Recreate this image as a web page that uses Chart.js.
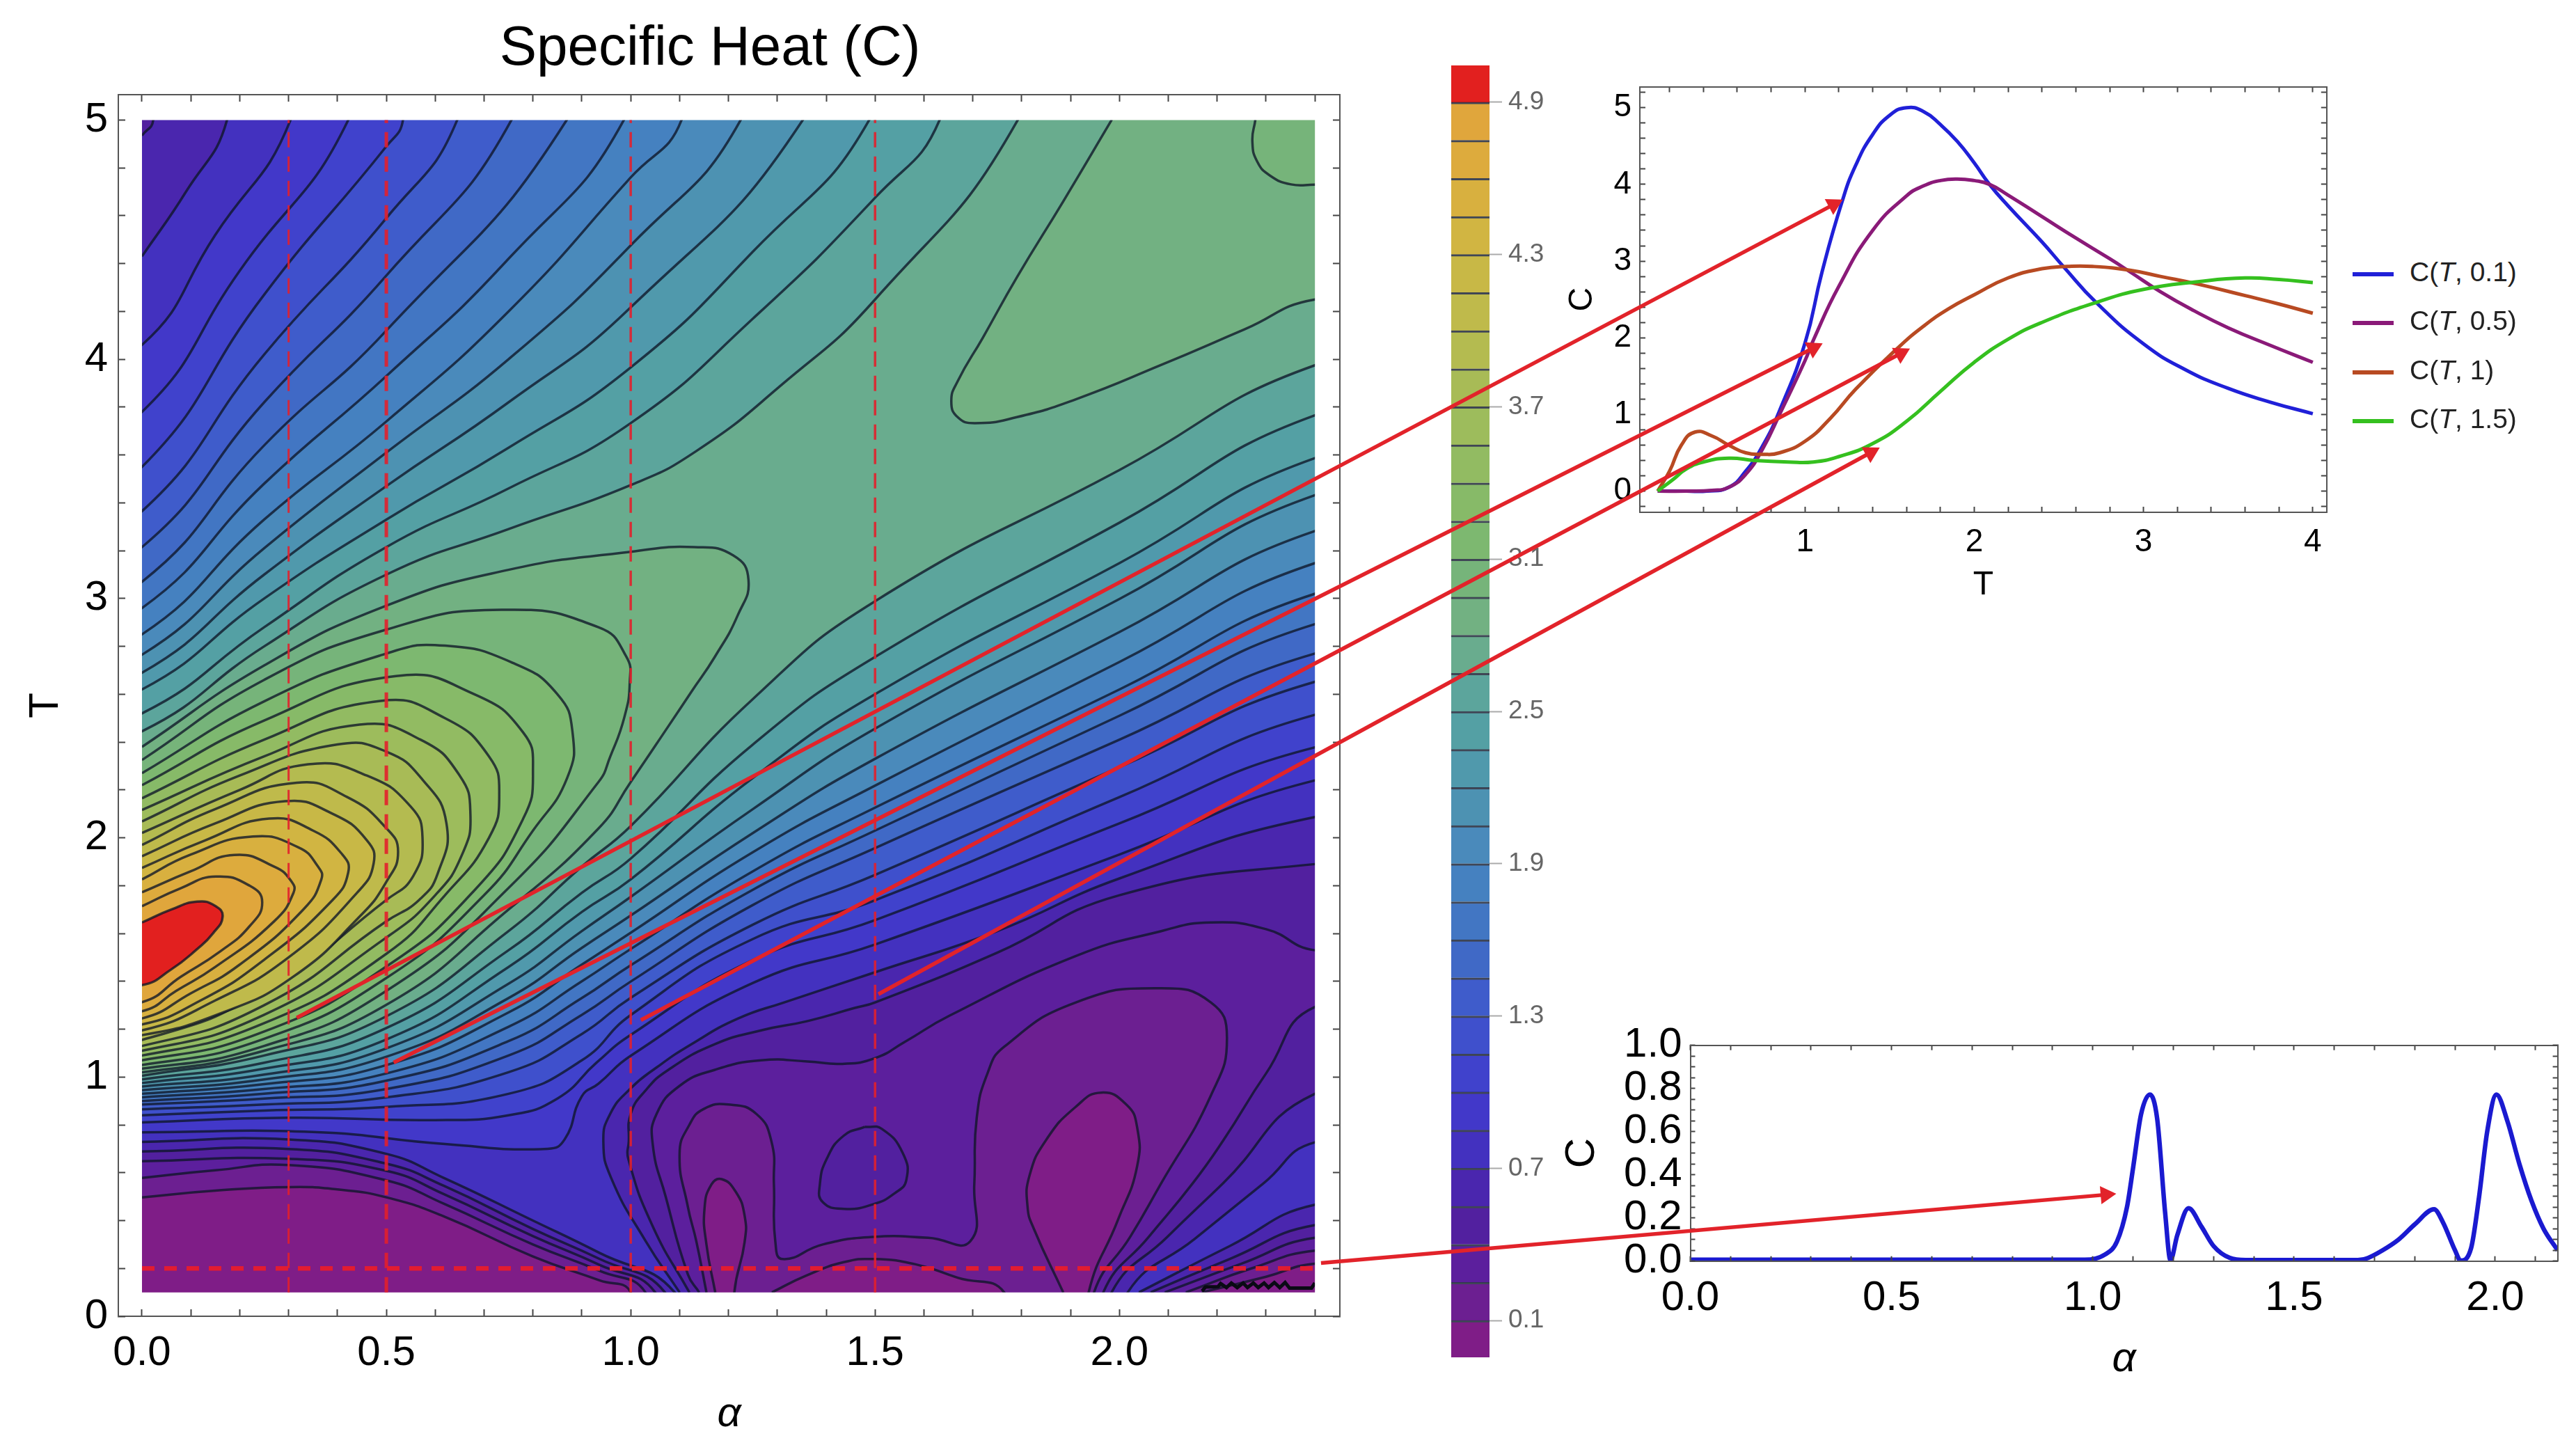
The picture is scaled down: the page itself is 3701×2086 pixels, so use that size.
<!DOCTYPE html>
<html>
<head>
<meta charset="utf-8">
<title>Specific Heat (C)</title>
<script src="https://cdn.jsdelivr.net/npm/chart.js@4"></script>
<style>
 body { margin:0; background:#fff; width:3701px; height:2086px; overflow:hidden; position:relative; font-family:"Liberation Sans",sans-serif; }
 canvas { position:absolute; }
 .leg { position:absolute; left:3380px; height:50px; color:#222; font-size:39px; line-height:50px; white-space:nowrap; }
 .leg span { display:inline-block; width:59px; height:6px; vertical-align:middle; margin-right:23px; }
</style>
</head>
<body>
<canvas id="main" width="2040" height="2086" style="left:0;top:0"></canvas>
<canvas id="bar" width="190" height="1980" style="left:2060px;top:60px"></canvas>
<canvas id="curves" width="1160" height="860" style="left:2200px;top:60px"></canvas>
<canvas id="slice" width="1501" height="646" style="left:2200px;top:1440px"></canvas>
<div id="legend"></div>
<canvas id="arrows" width="3701" height="2086" style="left:0;top:0"></canvas>
<script>
// contour levels and the colour of the band above each one (first colour is below 0.1)
const levels = [0.1,0.25,0.4,0.55,0.7,0.85,1,1.15,1.3,1.45,1.6,1.75,1.9,2.05,2.2,2.35,2.5,2.65,2.8,2.95,3.1,3.25,3.4,3.55,3.7,3.85,4,4.15,4.3,4.45,4.6,4.75,4.9];
const bandColors = ['#7f1d87','#6c1f91','#5c1f9d','#52209f','#4a26ae','#4331bf','#4238c9','#4042cc','#3f50cc','#3f5ccb','#4069c6','#4276c3','#4581c0','#4a8abb','#4d92b2','#5099ac','#54a0a4','#5ca59c','#69ac8e','#72b182','#76b47a','#7db870','#87ba68','#92bb62','#9dbc5c','#a8bb56','#b4bb50','#bfba4b','#c8b846','#d1b542','#d8b03f','#ddab3d','#e0a63c','#e2201f'];
const barTicks = [0.1,0.7,1.3,1.9,2.5,3.1,3.7,4.3,4.9];

// [alpha, T]: lower branch runs left edge -> right edge
const lower085 = [[0,.769],[.35,.77],[.62,.72],[.83,.70],[.865,.74],[.90,.92],[.934,.972],[1,1.089],[1.25,1.393],[1.5,1.554],[2,1.93],[2.4,2.24]];
const lower100 = [[0,.81],[.3,.83],[.6,.82],[.75,.84],[.85,.91],[.93,1.06],[1,1.176],[1.25,1.489],[1.5,1.656],[2,2.06],[2.4,2.378]];
const lower115 = [[0,.84],[.25,.86],[.5,.875],[.75,.93],[.9,1.07],[1,1.259],[1.25,1.577],[1.5,1.739],[2,2.17],[2.4,2.514]];
const lower130 = [[0,.865],[.25,.885],[.5,.915],[.75,1.02],[.9,1.18],[1,1.331],[1.25,1.637],[1.5,1.845],[2,2.295],[2.4,2.652]];
const lower145 = [[0,.885],[.25,.91],[.5,.95],[.75,1.09],[.9,1.26],[1,1.399],[1.25,1.719],[1.5,1.957],[2,2.41],[2.4,2.77]];
const lower160 = [[0,.90],[.25,.93],[.5,.985],[.75,1.15],[.9,1.33],[1,1.467],[1.25,1.783],[1.5,2.03],[2,2.51],[2.4,2.893]];
const lower175 = [[0,.915],[.25,.95],[.5,1.015],[.75,1.21],[.9,1.40],[1,1.535],[1.25,1.86],[1.5,2.126],[2,2.62],[2.4,3.02]];
const lower190 = [[0,.93],[.25,.97],[.5,1.05],[.75,1.27],[.9,1.47],[1,1.603],[1.25,1.94],[1.5,2.218],[2,2.735],[2.4,3.148]];
const lower205 = [[0,.945],[.25,.99],[.5,1.085],[.75,1.33],[.9,1.54],[1,1.675],[1.25,2.02],[1.5,2.33],[2,2.86],[2.4,3.282]];
const lower220 = [[0,.96],[.25,1.01],[.5,1.12],[.75,1.39],[.9,1.61],[1,1.753],[1.25,2.12],[1.5,2.456],[2,2.998],[2.4,3.432]];
const lower235 = [[0,.975],[.25,1.035],[.5,1.157],[.75,1.46],[.9,1.69],[1,1.826],[1.25,2.25],[1.5,2.60],[2,3.148],[2.4,3.587]];
const lower250 = [[0,.99],[.25,1.06],[.5,1.205],[.75,1.53],[.9,1.77],[1,1.913],[1.25,2.39],[1.5,2.756],[2,3.317],[2.4,3.766]];
const lower265 = [[0,1.005],[.25,1.09],[.5,1.254],[.75,1.61],[.9,1.88],[1,2.049],[1.25,2.58],[1.5,2.989],[2,3.537],[2.4,3.975]];

// upper branch runs left edge -> top edge
const upper055 = [[0,4.935],[.023,5]];
const upper070 = [[0,4.43],[.09,4.7],[.174,5]];
const upper085 = [[0,4.06],[.15,4.52],[.304,5]];
const upper100 = [[0,3.78],[.2,4.37],[.422,5]];
const upper115 = [[0,3.55],[.25,4.27],[.5,4.89],[.534,5]];
const upper130 = [[0,3.365],[.25,4.02],[.5,4.59],[.645,5]];
const upper145 = [[0,3.215],[.25,3.82],[.5,4.35],[.756,5]];
const upper160 = [[0,3.07],[.25,3.64],[.5,4.12],[.869,5]];
const upper175 = [[0,2.96],[.25,3.48],[.5,3.93],[.75,4.42],[.986,5]];
const upper190 = [[0,2.85],[.25,3.33],[.5,3.74],[.75,4.2],[1,4.76],[1.104,5]];
const upper205 = [[0,2.765],[.25,3.21],[.5,3.61],[.75,4.0],[1,4.476],[1.225,5]];
const upper220 = [[0,2.69],[.25,3.1],[.5,3.47],[.75,3.82],[1,4.217],[1.352,5]];
const upper235 = [[0,2.62],[.25,3.0],[.5,3.33],[.75,3.63],[1,3.966],[1.25,4.45],[1.488,5]];
const upper250 = [[0,2.52],[.25,2.88],[.5,3.215],[.75,3.46],[1,3.733],[1.25,4.17],[1.5,4.675],[1.632,5]];
const upper265 = [[0,2.445],[.25,2.8],[.5,3.10],[.75,3.29],[1,3.474],[1.134,3.616],[1.307,3.89],[1.5,4.25],[1.792,5]];

// closed loops round the peak, left edge -> over the top -> back to the left edge
const loop280 = [[0,2.38],[.25,2.72],[.5,2.97],[.75,3.12],[1,3.195],[1.13,3.215],[1.21,3.18],[1.241,3.077],[1.219,2.93],[1.172,2.756],[1.124,2.61],[1.077,2.466],[1,2.233],[.934,2.039],[.75,1.70],[.5,1.302],[.25,1.11],[0,1.02]];
const loop295 = [[0,2.325],[.25,2.66],[.5,2.87],[.736,2.953],[.934,2.88],[.991,2.757],[.998,2.65],[.987,2.504],[.958,2.339],[.934,2.233],[.75,1.79],[.5,1.36],[.25,1.13],[0,1.035]];
const loop310 = [[0,2.27],[.25,2.57],[.5,2.77],[.62,2.803],[.76,2.73],[.85,2.6],[.881,2.44],[.87,2.25],[.8,2.03],[.7,1.76],[.5,1.414],[.25,1.16],[0,1.05]];
const loop325 = [[0,2.22],[.25,2.49],[.52,2.676],[.68,2.6],[.78,2.44],[.80,2.28],[.78,2.08],[.68,1.78],[.5,1.462],[.25,1.19],[0,1.07]];
const loop340 = [[0,2.165],[.25,2.41],[.488,2.572],[.62,2.5],[.71,2.34],[.731,2.18],[.71,2.0],[.62,1.76],[.5,1.515],[.25,1.225],[0,1.09]];
const loop355 = [[0,2.116],[.25,2.34],[.445,2.473],[.57,2.41],[.65,2.26],[.672,2.1],[.655,1.93],[.6,1.76],[.5,1.583],[.25,1.26],[0,1.11]];
const loop370 = [[0,2.068],[.2,2.26],[.40,2.39],[.5,2.36],[.574,2.243],[.623,2.06],[.605,1.85],[.567,1.74],[.5,1.651],[.25,1.3],[0,1.13]];
const loop385 = [[0,2.02],[.2,2.2],[.34,2.307],[.46,2.26],[.55,2.13],[.574,2.0],[.555,1.84],[.5,1.74],[.25,1.36],[0,1.155]];
const loop400 = [[0,1.97],[.15,2.12],[.317,2.23],[.42,2.17],[.5,2.04],[.524,1.942],[.5,1.816],[.445,1.67],[.31,1.42],[.166,1.27],[0,1.175]];
const loop415 = [[0,1.923],[.15,2.06],[.293,2.153],[.39,2.1],[.46,1.99],[.474,1.893],[.44,1.77],[.3,1.5],[.15,1.32],[0,1.195]];
const loop430 = [[0,1.874],[.13,1.99],[.26,2.08],[.35,2.03],[.41,1.93],[.422,1.855],[.39,1.74],[.25,1.49],[.12,1.32],[0,1.22]];
const loop445 = [[0,1.826],[.1,1.93],[.227,2.005],[.32,1.96],[.36,1.88],[.367,1.826],[.33,1.7],[.2,1.47],[.1,1.35],[0,1.245]];
const loop460 = [[0,1.772],[.1,1.86],[.189,1.928],[.27,1.88],[.305,1.82],[.31,1.77],[.27,1.65],[.15,1.46],[.07,1.36],[0,1.275]];
const loop475 = [[0,1.714],[.08,1.79],[.151,1.838],[.22,1.80],[.246,1.73],[.22,1.63],[.16,1.525],[.08,1.42],[0,1.313]];
const loop490 = [[0,1.646],[.06,1.70],[.113,1.733],[.15,1.715],[.165,1.67],[.145,1.60],[.113,1.535],[.06,1.45],[0,1.384]];

// top right plateau
const ridge280 = [[1.984,5],[1.885,4.66],[1.79,4.342],[1.721,4.092],[1.669,3.908],[1.656,3.825],[1.669,3.758],[1.704,3.733],[1.79,3.758],[1.911,3.833],[2.084,3.975],[2.256,4.125],[2.4,4.25]];
const ridge295 = [[2.278,5],[2.272,4.91],[2.282,4.826],[2.308,4.768],[2.351,4.731],[2.4,4.73]];

// low side, bottom left bundle: left edge -> bottom edge
const left070 = [[0,.729],[.3,.739],[.5,.679],[.618,.578],[.8,.40],[.936,.265],[1.09,.1]];
const left055 = [[0,.689],[.3,.699],[.5,.638],[.618,.545],[.8,.365],[.936,.24],[1.07,.1]];
const left040 = [[0,.648],[.3,.658],[.5,.608],[.618,.51],[.8,.335],[.936,.215],[1.05,.1]];
const left025 = [[0,.578],[.15,.61],[.3,.632],[.5,.568],[.618,.47],[.8,.30],[.936,.19],[1.03,.1]];
const left010 = [[0,.497],[.15,.525],[.3,.54],[.4,.53],[.5,.497],[.618,.417],[.8,.25],[.936,.15],[1,.1]];

// low side, right of the saddle: bottom edge -> right edge
const right070 = [[1.10,.1],[1.03,.316],[.96,.578],[.944,.73],[.958,.846],[1,.953],[1.053,1.04],[1.124,1.137],[1.219,1.244],[1.314,1.312],[1.5,1.438],[1.75,1.61],[2,1.83],[2.4,2.087]];
const fan070 = [[2.4,.727],[2.295,.556],[2.154,.323],[2.017,.1]];
const right055 = [[1.12,.1],[1.045,.376],[.995,.658],[.996,.73],[1,.846],[1.03,.943],[1.077,1.03],[1.172,1.137],[1.267,1.195],[1.362,1.234],[1.457,1.288],[1.5,1.312],[1.75,1.52],[2,1.76],[2.4,1.89]];
const fan055 = [[2.4,.93],[2.212,.556],[2.098,.332],[1.984,.1]];
const right040 = [[1.14,.1],[1.117,.175],[1.072,.497],[1.045,.72],[1.053,.846],[1.10,.963],[1.172,1.03],[1.267,1.07],[1.362,1.065],[1.433,1.055],[1.5,1.079],[1.561,1.147],[1.652,1.256],[1.911,1.506],[2.084,1.609],[2.187,1.646],[2.3,1.618],[2.4,1.53]];
const fan040 = [[2.4,1.293],[2.3,1.015],[2.213,.737],[2.15,.556],[2.06,.332],[1.967,.1]];
const valley025 = [[1.155,.1],[1.134,.316],[1.117,.457],[1.10,.68],[1.12,.80],[1.149,.866],[1.2,.885],[1.257,.846],[1.288,.73],[1.293,.551],[1.296,.31],[1.311,.239],[1.393,.30],[1.496,.332],[1.609,.328],[1.695,.314],[1.703,.551],[1.708,.829],[1.73,1.015],[1.764,1.126],[1.911,1.312],[2.084,1.371],[2.187,1.312],[2.22,1.163],[2.187,.922],[2.084,.551],[2.022,.332],[1.948,.1]];
const lobeA010 = [[1.173,.1],[1.155,.30],[1.151,.45],[1.165,.55],[1.186,.573],[1.215,.52],[1.233,.421],[1.233,.31],[1.212,.1]];
const arch010 = [[1.289,.1],[1.359,.17],[1.436,.226],[1.496,.239],[1.583,.217],[1.669,.161],[1.764,.1]];
const lobeB010 = [[1.885,.1],[1.825,.365],[1.812,.458],[1.816,.588],[1.85,.737],[1.911,.876],[1.963,.935],[2.014,.885],[2.036,.792],[2.036,.625],[1.997,.403],[1.937,.1]];
const island040 = [[1.479,.792],[1.514,.783],[1.557,.681],[1.564,.57],[1.54,.514],[1.496,.468],[1.436,.449],[1.393,.477],[1.387,.551],[1.402,.662],[1.436,.755],[1.479,.792]];
const corner070 = [[2.04,.1],[2.226,.294],[2.4,.466]];
const corner055 = [[2.064,.1],[2.226,.24],[2.4,.381]];
const corner040 = [[2.093,.1],[2.25,.22],[2.4,.328]];
const corner025 = [[2.136,.1],[2.27,.2],[2.4,.274]];
const corner010 = [[2.169,.1],[2.3,.165],[2.4,.22]];
const jagged = [[2.169,.105],[2.176,.122],[2.202,.124],[2.207,.137],[2.219,.12],[2.229,.139],[2.241,.12],[2.253,.139],[2.262,.12],[2.274,.139],[2.284,.12],[2.296,.139],[2.305,.12],[2.317,.141],[2.328,.12],[2.339,.141],[2.348,.118],[2.393,.118],[2.4,.139]];

// the slices marked in red
const cutAlpha = [0.3,0.5,1,1.5];
const cutT = 0.2;
const cutWidths = [3,5,3.5,3.5];

// C against T, inset at top right
const seriesNames = ['C(<i>T</i>, 0.1)','C(<i>T</i>, 0.5)','C(<i>T</i>, 1)','C(<i>T</i>, 1.5)'];
const seriesColors = ['#2020d8','#8a1a78','#b84a22','#35c01f'];
const curve01 = [[.13,0],[.3,0],[.42,0],[.55,.05],[.65,.26],[.75,.59],[.85,1.05],[1,1.93],[1.1,2.85],[1.22,3.78],[1.3,4.25],[1.4,4.65],[1.5,4.9],[1.6,5],[1.7,4.95],[1.8,4.78],[1.9,4.56],[2,4.28],[2.09,4],[2.2,3.72],[2.4,3.25],[2.53,2.92],[2.72,2.46],[3,1.92],[3.25,1.58],[3.5,1.34],[3.75,1.16],[4,1.01]];
const curve05 = [[.13,0],[.3,0],[.45,.01],[.55,.05],[.65,.22],[.75,.55],[.85,1],[1,1.7],[1.05,1.97],[1.2,2.67],[1.4,3.4],[1.6,3.85],[1.7,3.98],[1.8,4.05],[1.9,4.07],[2,4.05],[2.09,4],[2.2,3.86],[2.4,3.58],[2.6,3.3],[2.8,3.03],[2.92,2.86],[3.1,2.6],[3.3,2.35],[3.5,2.13],[3.75,1.9],[4,1.68]];
const curve10 = [[.13,0],[.2,.26],[.27,.6],[.35,.77],[.45,.72],[.55,.6],[.65,.5],[.75,.48],[.85,.5],[1,.65],[1.15,.95],[1.3,1.33],[1.55,1.87],[1.7,2.15],[1.85,2.38],[2,2.56],[2.2,2.78],[2.4,2.9],[2.55,2.93],[2.7,2.93],[2.92,2.88],[3.1,2.8],[3.32,2.7],[3.6,2.55],[3.8,2.44],[4,2.32]];
const curve15 = [[.13,0],[.22,.15],[.3,.29],[.4,.38],[.55,.43],[.7,.4],[.9,.38],[1.05,.38],[1.2,.45],[1.4,.62],[1.6,.91],[1.8,1.3],[2,1.68],[2.2,1.98],[2.4,2.2],[2.72,2.46],[3,2.63],[3.32,2.73],[3.6,2.78],[3.8,2.76],[4,2.72]];

// C against alpha at T = 0.2, inset at bottom right
const sliceCurve = [[0,.006],[.5,.006],[.98,.006],[1.03,.03],[1.06,.09],[1.085,.25],[1.1,.43],[1.12,.68],[1.142,.772],[1.16,.66],[1.18,.22],[1.193,.004],[1.21,.12],[1.238,.245],[1.27,.16],[1.3,.07],[1.34,.015],[1.38,.005],[1.65,.005],[1.68,.012],[1.72,.05],[1.76,.1],[1.8,.17],[1.848,.24],[1.87,.18],[1.9,.05],[1.914,.002],[1.94,.06],[1.96,.3],[1.98,.6],[2.003,.772],[2.03,.65],[2.06,.45],[2.09,.28],[2.12,.15],[2.155,.05]];

// tick positions
const mainXTicks = [0,.1,.2,.3,.4,.5,.6,.7,.8,.9,1,1.1,1.2,1.3,1.4,1.5,1.6,1.7,1.8,1.9,2,2.1,2.2,2.3,2.4];
const mainXLabels = [0,.5,1,1.5,2];
const mainYTicks = [0,.2,.4,.6,.8,1,1.2,1.4,1.6,1.8,2,2.2,2.4,2.6,2.8,3,3.2,3.4,3.6,3.8,4,4.2,4.4,4.6,4.8,5];
const mainYLabels = [0,1,2,3,4,5];
const curveXTicks = [.2,.4,.6,.8,1,1.2,1.4,1.6,1.8,2,2.2,2.4,2.6,2.8,3,3.2,3.4,3.6,3.8,4];
const curveXLabels = [1,2,3,4];
const curveYTicks = [-.2,0,.2,.4,.6,.8,1,1.2,1.4,1.6,1.8,2,2.2,2.4,2.6,2.8,3,3.2,3.4,3.6,3.8,4,4.2,4.4,4.6,4.8,5,5.2];
const curveYLabels = [0,1,2,3,4,5];
const sliceXTicks = [0,.1,.2,.3,.4,.5,.6,.7,.8,.9,1,1.1,1.2,1.3,1.4,1.5,1.6,1.7,1.8,1.9,2,2.1];
const sliceXLabels = [0,.5,1,1.5,2];
const sliceYTicks = [0,.05,.1,.15,.2,.25,.3,.35,.4,.45,.5,.55,.6,.65,.7,.75,.8,.85,.9,.95,1];
const sliceYLabels = [0,.2,.4,.6,.8,1];

// arrows go from a point of the map (alpha, T) to a point of an inset
const arrowFrom = [[.3,1.23],[.5,1.04],[1.01,1.22],[1.5,1.33],[2.413,.19]];
const arrowTo = [[1.25,3.9],[1.13,2.0],[1.65,1.93],[1.47,.62],[1.075,.28]];

const FONT = '"Liberation Sans", sans-serif';
const contourColor = 'rgba(14,22,40,0.78)';
const redLine = '#e2232a';

const pts = (list) => list.map(p => ({x:p[0], y:p[1]}));

function shape(list, color, width, tension) {
  return { data:pts(list), backgroundColor:color, borderColor:contourColor, borderWidth:width === undefined ? 3.5 : width,
    fill:'shape', showLine:true, pointRadius:0, tension:tension === undefined ? 0.5 : tension };
}

// close a path by going round outside the plotted domain
function closeOut(path, extra) {
  let all = path.concat(extra);
  all.push(path[0]);
  return all;
}
function band(level) { return bandColors[levels.indexOf(level) + 1]; }

function axis(pos, min, max, tickVals, size, tl, labelVals, digits, opt) {
  opt = opt || {};
  let horizontal = pos === 'top' || pos === 'bottom';
  return {
    type:'linear', position:pos, min:min, max:max,
    afterBuildTicks:(a) => { a.ticks = tickVals.map(v => ({value:v})); },
    afterFit:(s) => { if (horizontal) s.height = size; else s.width = size; },
    border:{color:'#555', width:2, z:1},
    grid:{drawOnChartArea:false, tickLength:-tl, tickColor:'#444', tickWidth:2, z:1},
    ticks:{display:!!labelVals, autoSkip:false, maxRotation:0, minRotation:0, padding:(opt.pad || 0) + tl, color:'#000',
      font:{family:FONT, size:opt.font || 60},
      callback:(v) => (labelVals && labelVals.some(l => Math.abs(l - v) < 1e-6)) ? v.toFixed(digits) : ''},
    title:opt.title ? {display:true, text:opt.title, color:'#000', padding:opt.titlePad,
      font:{family:FONT, size:opt.titleSize || 60, style:opt.italic ? 'italic' : 'normal'}} : {display:false}
  };
}

// ---- contour map ----
const XMIN = -0.0484, XMAX = 2.451, YMIN = 0, YMAX = 5.106;
let paint = [];
// everything starts in the band between 0.7 and 0.85
paint.push(shape([[-.1,0],[2.6,0],[2.6,5.3],[-.1,5.3],[-.1,0]], bandColors[5], 0, 0));

// areas below a level, high level first
const leftClose = (p) => [[p[p.length-1][0],-.1],[-.1,-.1],[-.1,p[0][1]]];
const floorClose = (a, b) => [[a,-.1],[b,-.1]];
paint.push(shape(closeOut(left070, leftClose(left070)), bandColors[4]));
paint.push(shape(closeOut(right070.concat([[2.6,2.087],[2.6,.727]]).concat(fan070), floorClose(2.017,1.10)), bandColors[4]));
paint.push(shape(closeOut(corner070, [[2.6,.466],[2.6,-.1],[2.04,-.1]]), bandColors[4]));
paint.push(shape(closeOut(upper070, [[.174,5.3],[-.1,5.3],[-.1,4.43]]), bandColors[4]));
paint.push(shape(closeOut(left055, leftClose(left055)), bandColors[3]));
paint.push(shape(closeOut(right055.concat([[2.6,1.89],[2.6,.93]]).concat(fan055), floorClose(1.984,1.12)), bandColors[3]));
paint.push(shape(closeOut(corner055, [[2.6,.381],[2.6,-.1],[2.064,-.1]]), bandColors[3]));
paint.push(shape(closeOut(upper055, [[.023,5.3],[-.1,5.3],[-.1,4.935]]), bandColors[3]));
paint.push(shape(closeOut(left040, leftClose(left040)), bandColors[2]));
paint.push(shape(closeOut(right040.concat([[2.6,1.53],[2.6,1.293]]).concat(fan040), floorClose(1.967,1.14)), bandColors[2]));
paint.push(shape(closeOut(corner040, [[2.6,.328],[2.6,-.1],[2.093,-.1]]), bandColors[2]));
paint.push(shape(closeOut(left025, leftClose(left025)), bandColors[1]));
paint.push(shape(closeOut(valley025, floorClose(1.948,1.155)), bandColors[1]));
paint.push(shape(closeOut(corner025, [[2.6,.274],[2.6,-.1],[2.136,-.1]]), bandColors[1]));
paint.push(shape(closeOut(left010, leftClose(left010)), bandColors[0]));
paint.push(shape(closeOut(lobeA010, floorClose(1.212,1.173)), bandColors[0]));
paint.push(shape(closeOut(arch010, floorClose(1.764,1.289)), bandColors[0]));
paint.push(shape(closeOut(lobeB010, floorClose(1.937,1.885)), bandColors[0]));
paint.push(shape(closeOut(corner010, [[2.6,.22],[2.6,-.1],[2.169,-.1]]), bandColors[0]));
paint.push(shape(island040, bandColors[3]));

// areas above a level, low level first
const fans = [[.85,lower085,upper085],[1,lower100,upper100],[1.15,lower115,upper115],[1.3,lower130,upper130],[1.45,lower145,upper145],[1.6,lower160,upper160],[1.75,lower175,upper175],[1.9,lower190,upper190],[2.05,lower205,upper205],[2.2,lower220,upper220],[2.35,lower235,upper235],[2.5,lower250,upper250],[2.65,lower265,upper265]];
fans.forEach(f => {
  let lo = f[1], up = f[2];
  let lastT = lo[lo.length-1][1], topA = up[up.length-1][0];
  let round = [[2.6,lastT],[2.6,5.3],[topA,5.3]].concat(up.slice().reverse()).concat([[-.1,up[0][1]],[-.1,lo[0][1]]]);
  paint.push(shape(closeOut(lo, round), band(f[0])));
});
const loops = [[2.8,loop280],[2.95,loop295],[3.1,loop310],[3.25,loop325],[3.4,loop340],[3.55,loop355],[3.7,loop370],[3.85,loop385],[4,loop400],[4.15,loop415],[4.3,loop430],[4.45,loop445],[4.6,loop460],[4.75,loop475],[4.9,loop490]];
loops.forEach((l, i) => {
  let p = l[1];
  paint.push(shape(closeOut(p, [[-.1,p[p.length-1][1]],[-.1,p[0][1]]]), band(l[0])));
  if (i === 0) paint.push(shape(closeOut(ridge280, [[2.6,4.25],[2.6,5.3],[1.984,5.3]]), band(2.8)));
  if (i === 1) paint.push(shape(closeOut(ridge295, [[2.6,4.73],[2.6,5.3],[2.278,5.3]]), band(2.95)));
});

paint.push({ data:pts(jagged), borderColor:'#0a0a14', borderWidth:5, showLine:true, pointRadius:0, tension:0 });

// white margin between the domain and the frame
[[XMIN-.1,XMAX+.1,YMIN-.1,.1],[2.4,XMAX+.1,YMIN-.1,YMAX+.1],[XMIN-.1,0,YMIN-.1,YMAX+.1],[XMIN-.1,XMAX+.1,5,YMAX+.1]].forEach(r => {
  paint.push(shape([[r[0],r[2]],[r[1],r[2]],[r[1],r[3]],[r[0],r[3]],[r[0],r[2]]], '#fff', 0, 0));
});

// red dashed slices
cutAlpha.forEach((a, i) => {
  paint.push({ data:pts([[a,.1],[a,5]]), borderColor:'rgba(226,32,44,0.9)', borderWidth:cutWidths[i], borderDash:[22,13], showLine:true, pointRadius:0, tension:0 });
});
paint.push({ data:pts([[0,cutT],[2.4,cutT]]), borderColor:'rgba(232,28,44,0.95)', borderWidth:6.5, borderDash:[18,14], showLine:true, pointRadius:0, tension:0 });

// datasets are drawn last to first
paint.reverse();

const chartBase = { responsive:false, animation:false, events:[], plugins:{legend:{display:false}, tooltip:{enabled:false}} };

const mainChart = new Chart(document.getElementById('main'), {
  type:'scatter',
  data:{datasets:paint},
  options:Object.assign({}, chartBase, {
    // the left padding keeps the title over x = 1020, tick labels simply hang out of the thin y box
    layout:{padding:{left:115, right:115}},
    plugins:{legend:{display:false}, tooltip:{enabled:false},
      title:{display:true, text:'Specific Heat (C)', color:'#000', font:{family:FONT, size:80, weight:'normal'}, padding:{top:23, bottom:17}}},
    scales:{
      x:axis('bottom', XMIN, XMAX, mainXTicks, 195, 10, mainXLabels, 1, {pad:17, title:'α', italic:true, titlePad:{bottom:18}}),
      y:axis('left', YMIN, YMAX, mainYTicks, 55, 10, mainYLabels, 0, {pad:15, title:'T', titlePad:{top:-85}}),
      x2:axis('top', XMIN, XMAX, mainXTicks, 0, 10),
      y2:axis('right', YMIN, YMAX, mainYTicks, 0, 10)
    }
  })
});

// ---- colour bar ----
const barEdges = [-0.045].concat(levels).concat([5.045]);
new Chart(document.getElementById('bar'), {
  type:'bar',
  data:{labels:['C'], datasets:bandColors.map((c, i) => ({
    data:[[barEdges[i], barEdges[i+1]]], backgroundColor:c, grouped:false, barPercentage:1, categoryPercentage:1,
    borderSkipped:false, borderColor:'rgba(16,24,44,0.8)', borderWidth:{top:i < bandColors.length-1 ? 3 : 0, bottom:0, left:0, right:0}
  }))},
  options:Object.assign({}, chartBase, {
    layout:{padding:{left:25, top:34, bottom:90}},
    scales:{
      x:{display:false},
      y:{type:'linear', position:'right', min:-0.045, max:5.045,
        afterBuildTicks:(a) => { a.ticks = barTicks.map(v => ({value:v})); },
        afterFit:(s) => { s.width = 110; },
        border:{display:false},
        grid:{drawOnChartArea:false, tickLength:18, tickColor:'#aaa', tickWidth:2},
        ticks:{padding:9, color:'#666', autoSkip:false, font:{family:FONT, size:37}, callback:(v) => v.toFixed(1)}
      }
    }
  })
});

// ---- C against T ----
const curveChart = new Chart(document.getElementById('curves'), {
  type:'scatter',
  data:{datasets:[curve01,curve05,curve10,curve15].map((c, i) => ({
    data:pts(c), borderColor:seriesColors[i], borderWidth:5, showLine:true, pointRadius:0, tension:0.5, order:3-i
  }))},
  options:Object.assign({}, chartBase, {
    layout:{padding:{top:64.5, right:14}},
    scales:{
      x:axis('bottom', 0.0246, 4.082, curveXTicks, 184, 8, curveXLabels, 0, {pad:16, font:46, title:'T', titleSize:48, titlePad:{bottom:50}}),
      y:axis('left', -0.276, 5.274, curveYTicks, 156, 8, curveYLabels, 0, {pad:12, font:46, title:'C', titleSize:48, titlePad:{top:45}}),
      x2:axis('top', 0.0246, 4.082, curveXTicks, 0, 8),
      y2:axis('right', -0.276, 5.274, curveYTicks, 0, 8)
    }
  })
});

// legend of the inset, real text so the T can stay italic
const legendY = [391,461,532,602];
document.getElementById('legend').innerHTML = seriesNames.map((n, i) =>
  '<div class="leg" style="top:' + (legendY[i]-25) + 'px"><span style="background:' + seriesColors[i] + '"></span>' + n + '</div>').join('');

// ---- C against alpha ----
const sliceChart = new Chart(document.getElementById('slice'), {
  type:'scatter',
  data:{datasets:[{data:pts(sliceCurve), borderColor:'#1a1ad0', borderWidth:6.5, showLine:true, pointRadius:0, cubicInterpolationMode:'monotone'}]},
  options:Object.assign({}, chartBase, {
    layout:{padding:{top:61.7, right:26.4}},
    scales:{
      x:axis('bottom', 0, 2.155, sliceXTicks, 274.3, 7, sliceXLabels, 1, {pad:18, title:'α', italic:true, titlePad:{bottom:97}}),
      y:axis('left', 0, 1, sliceYTicks, 228.5, 7, sliceYLabels, 1, {pad:12, title:'C', titlePad:{top:37}}),
      x2:axis('top', 0, 2.155, sliceXTicks, 0, 7),
      y2:axis('right', 0, 1, sliceYTicks, 0, 7)
    }
  })
});

// ---- red arrows on a see-through chart over the whole page ----
function pagePoint(chart, left, top, p) {
  return [left + chart.scales.x.getPixelForValue(p[0]), top + chart.scales.y.getPixelForValue(p[1])];
}
const HEAD = 15;
const arrowSets = arrowFrom.map((from, i) => {
  let a = pagePoint(mainChart, 0, 0, from);
  let b = i < 4 ? pagePoint(curveChart, 2200, 60, arrowTo[i]) : pagePoint(sliceChart, 2200, 1440, arrowTo[i]);
  let ang = Math.atan2(b[1]-a[1], b[0]-a[0]);
  let end = [b[0] - HEAD*Math.cos(ang), b[1] - HEAD*Math.sin(ang)];
  return { data:pts([a, end]), borderColor:redLine, backgroundColor:redLine, borderWidth:5.5, showLine:true, tension:0,
    pointStyle:'triangle', pointRadius:[0,HEAD], pointBorderWidth:0, pointRotation:ang*180/Math.PI + 90 };
});
new Chart(document.getElementById('arrows'), {
  type:'scatter',
  data:{datasets:arrowSets},
  options:Object.assign({}, chartBase, {
    scales:{
      x:{display:false, type:'linear', min:0, max:3701},
      y:{display:false, type:'linear', min:0, max:2086, reverse:true}
    }
  })
});
</script>
</body>
</html>
